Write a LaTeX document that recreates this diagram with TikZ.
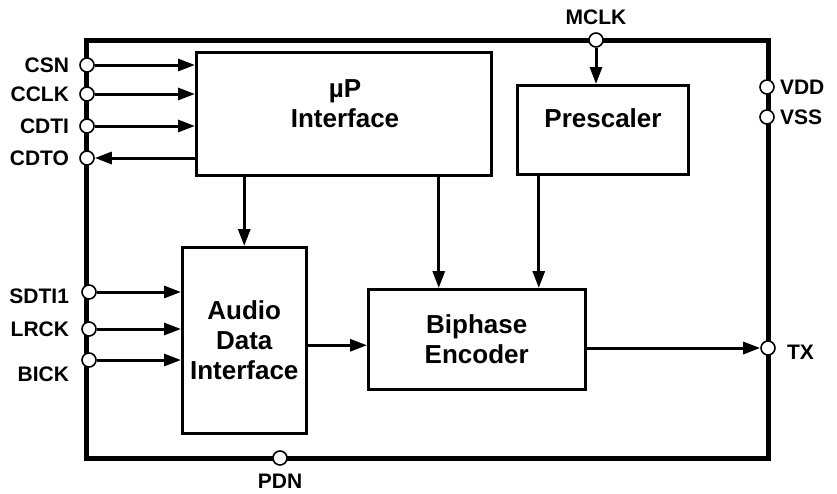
\documentclass[tikz,border=0pt]{standalone}
\usepackage{fontspec}
\setmainfont{Liberation Sans}
\usetikzlibrary{arrows.meta,positioning}
\begin{document}
\begin{tikzpicture}[x=1pt,y=-1pt,
    blk/.style={draw=black,line width=2.5pt,fill=white,inner sep=0pt,
                font=\fontsize{26}{30}\selectfont\bfseries,align=center},
    blktxt/.style={font=\fontsize{26}{30}\selectfont\bfseries,align=center,inner sep=0pt},
    pin/.style={circle,draw=black,line width=1.6pt,fill=white,inner sep=0pt,minimum size=14pt},
    pintxt/.style={font=\fontsize{21}{24}\selectfont\bfseries,inner sep=0pt},
    sig/.style={line width=3pt,-{Triangle[length=17pt,width=12pt]}}]
    \useasboundingbox (0,0) rectangle (837,493);
    \draw[line width=5pt] (86,40) rectangle (768,458);

    % blocks
    \node[blk,anchor=north west,minimum width=295pt,minimum height=123pt] (up) at (195,51) {};
    \node[blktxt] (uptxt) at (345,104) {µP\\Interface};
    \node[blk,anchor=north west,minimum width=171pt,minimum height=89pt] (pre) at (516,84) {};
    \node[blktxt] (pretxt) at (603,118) {Prescaler};
    \node[blk,anchor=north west,minimum width=124pt,minimum height=186pt] (adi) at (181,246) {Audio\\Data\\Interface};
    \node[blk,anchor=north west,minimum width=217pt,minimum height=100pt] (bpe) at (367,288) {Biphase\\Encoder};

    % pins
    \node[pin] (csn) at (87,65) {};
    \node[pin] (cclk) at (87,94) {};
    \node[pin] (cdti) at (87,126) {};
    \node[pin] (cdto) at (87,158) {};
    \node[pin] (sdti) at (89,292) {};
    \node[pin] (lrck) at (89,329) {};
    \node[pin] (bick) at (89,360) {};
    \node[pin] (mclk) at (596,40) {};
    \node[pin] (vdd) at (767,87) {};
    \node[pin] (vss) at (767,117) {};
    \node[pin] (tx) at (768,348) {};
    \node[pin] (pdn) at (280,458) {};

    \node[pintxt,left=10pt of csn] (csnl) {CSN};
    \node[pintxt,left=10pt of cclk] (cclkl) {CCLK};
    \node[pintxt,left=10pt of cdti] (cdtil) {CDTI};
    \node[pintxt,left=10pt of cdto] (cdtol) {CDTO};
    \node[pintxt,left=12pt of sdti,yshift=-4pt] (sdtil) {SDTI1};
    \node[pintxt,left=12pt of lrck] (lrckl) {LRCK};
    \node[pintxt,left=12pt of bick,yshift=-14pt] (bickl) {BICK};
    \node[pintxt,above=7pt of mclk] (mclkl) {MCLK};
    \node[pintxt,right=5pt of vdd] (vddl) {VDD};
    \node[pintxt,right=5pt of vss] (vssl) {VSS};
    \node[pintxt,right=11pt of tx,yshift=-4pt] (txl) {TX};
    \node[pintxt,below=8pt of pdn] (pdnl) {PDN};

    % signals
    \draw[sig] (csn) -- (csn -| up.west);
    \draw[sig] (cclk) -- (cclk -| up.west);
    \draw[sig] (cdti) -- (cdti -| up.west);
    \draw[sig] (cdto -| up.west) -- (cdto);
    \draw[sig] (sdti) -- (sdti -| adi.west);
    \draw[sig] (lrck) -- (lrck -| adi.west);
    \draw[sig] (bick) -- (bick -| adi.west);
    \draw[sig] (mclk) -- (mclk |- pre.north);
    \draw[sig] (adi.north |- up.south) -- (adi.north);
    \draw[sig] ([xshift=-38pt]bpe.north |- up.south) -- ([xshift=-38pt]bpe.north);
    \draw[sig] ([xshift=62pt]bpe.north |- pre.south) -- ([xshift=62pt]bpe.north);
    \draw[sig] ([yshift=-5pt]adi.east) -- ([yshift=-5pt]adi.east -| bpe.west);
    \draw[sig] (tx -| bpe.east) -- (tx);
\end{tikzpicture}
\end{document}
